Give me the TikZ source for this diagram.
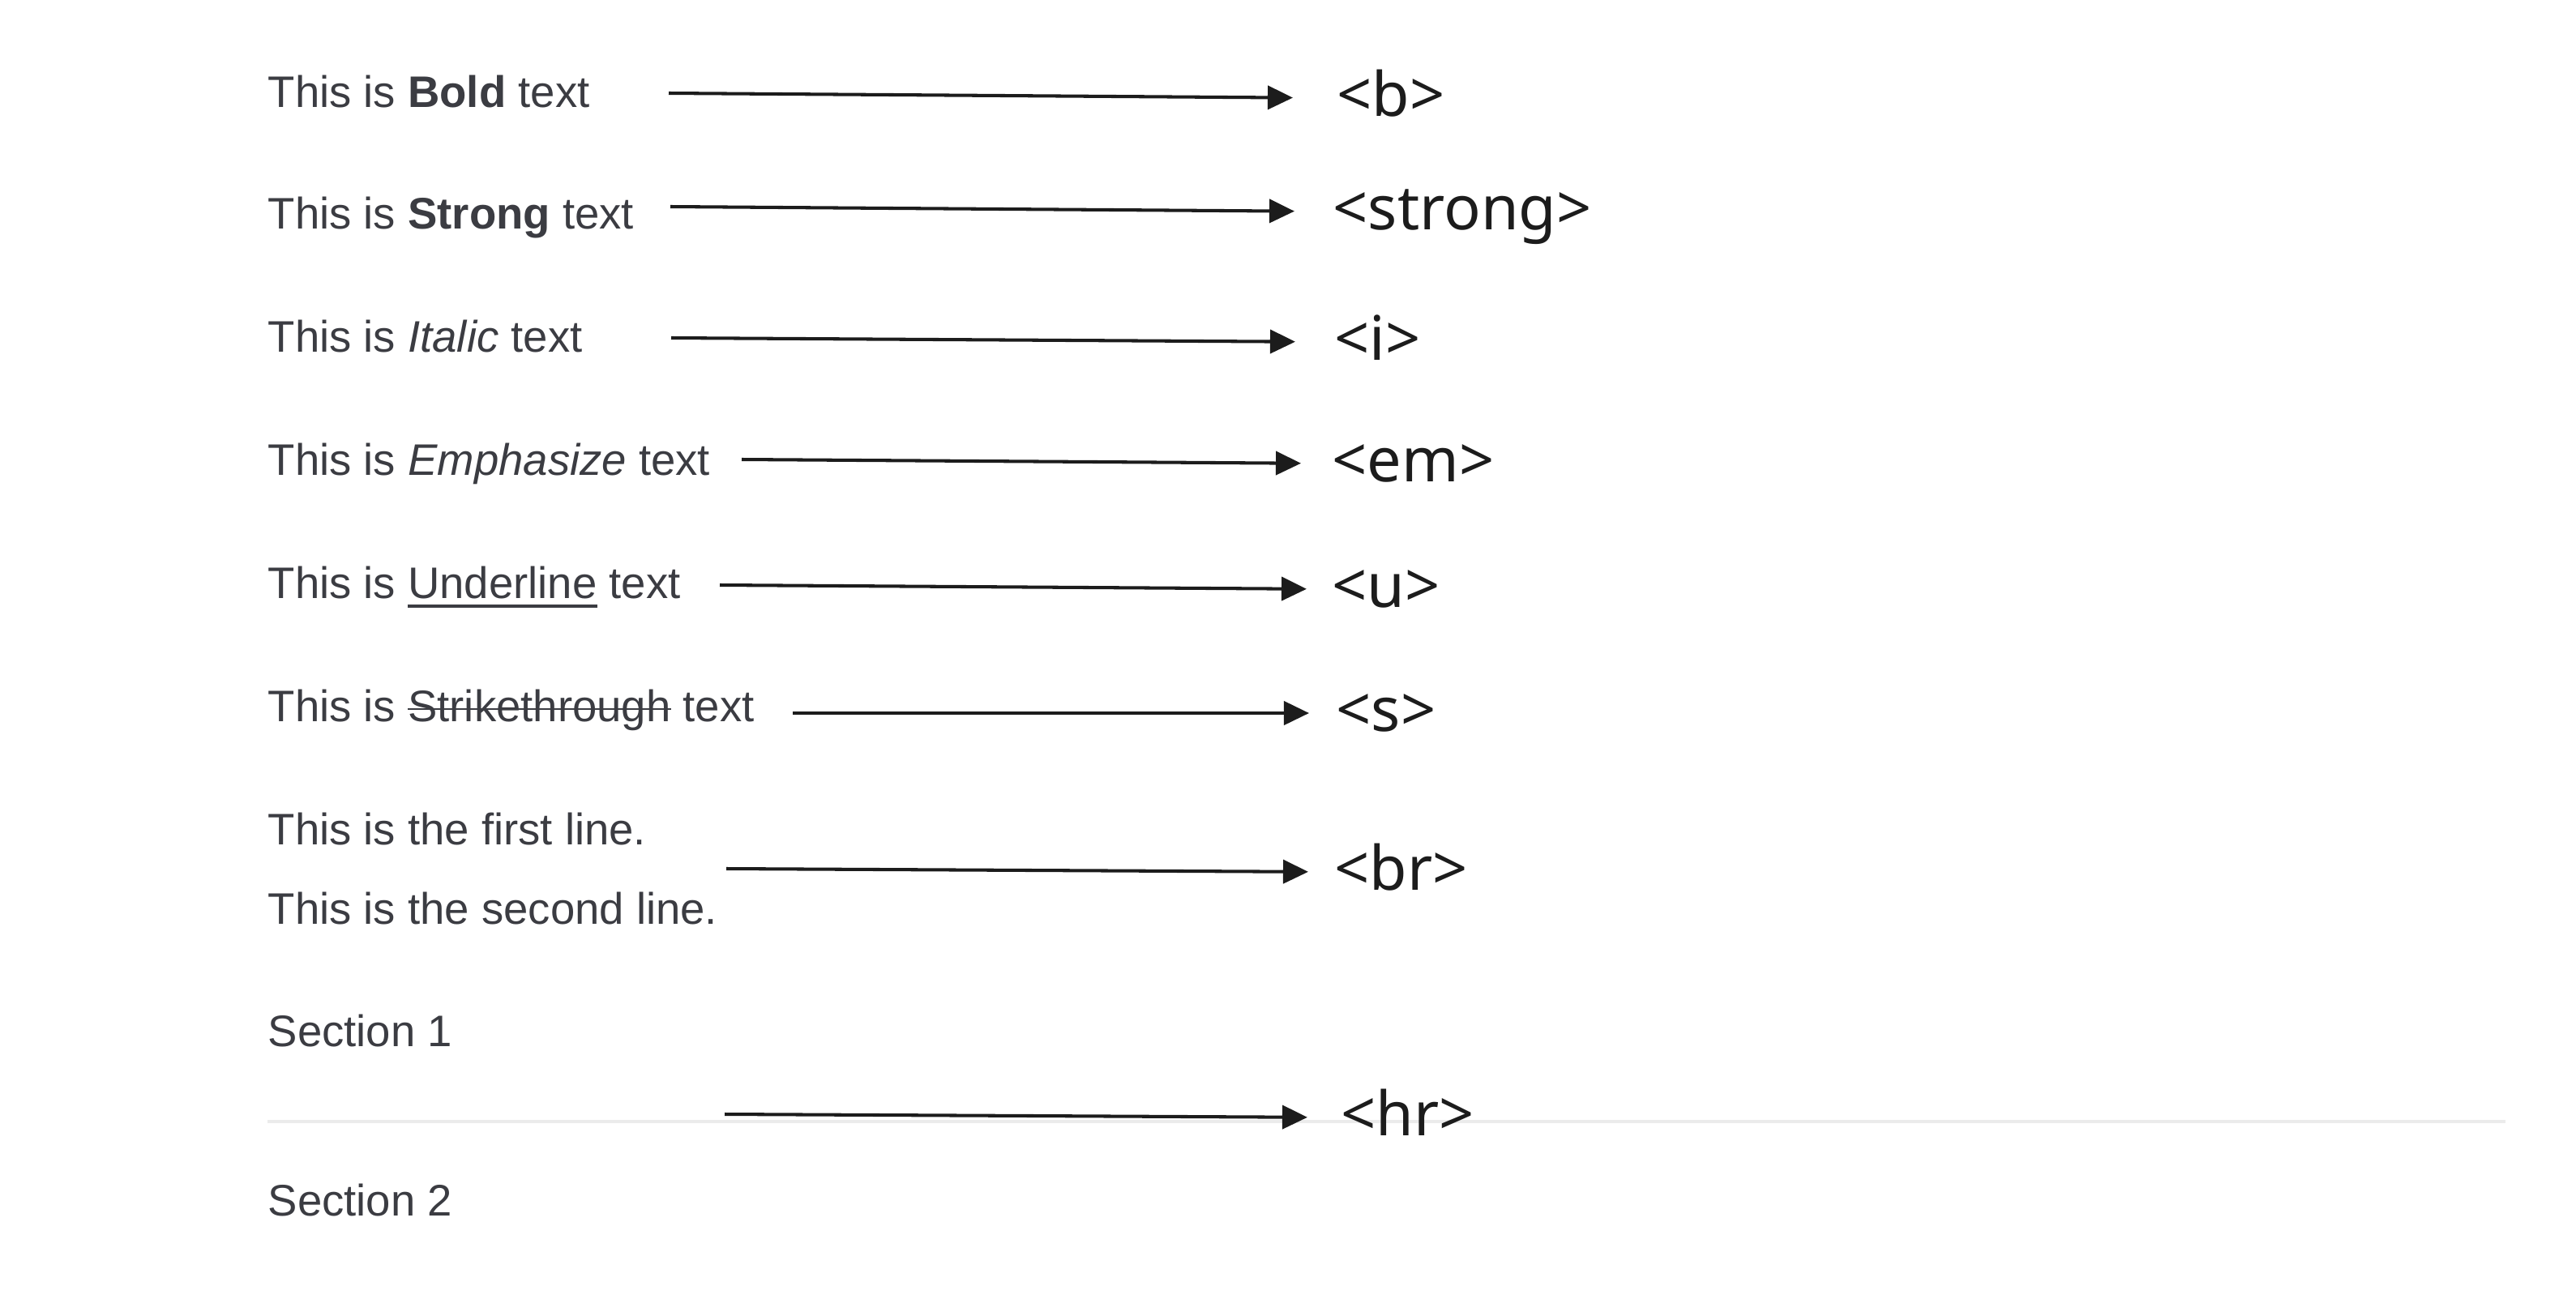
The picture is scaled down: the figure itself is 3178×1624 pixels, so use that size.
\documentclass[tikz,border=0pt]{standalone}
\usepackage{fontspec}
\setmainfont{Liberation Sans}
\newfontfamily\tagfont{Noto Sans}
\usetikzlibrary{arrows.meta}

\definecolor{inkgray}{HTML}{3B3C42}
\definecolor{inkblack}{HTML}{1C1C1C}
\definecolor{rulegray}{HTML}{EBEBEB}

% underline and strike-through for a single word
\newcommand\ulword[1]{\sbox0{#1}\rlap{\rule[-3.4pt]{\wd0}{1.2pt}}\usebox0}
\newcommand\strikeword[1]{\sbox0{#1}\rlap{\rule[0.25em]{\wd0}{0.8pt}}\usebox0}

\begin{document}
\begin{tikzpicture}[
  x=0.01cm, y=-0.01cm,
  txt/.style={anchor=base west, inner sep=0pt, text=inkgray,
              font=\fontsize{15.5}{18}\selectfont},
  tag/.style={anchor=west, inner sep=0pt, text height=16pt, text depth=3pt,
              text=inkblack, font=\tagfont\fontsize{21.5}{24}\selectfont},
  arrow/.style={-{Triangle[length=0.31cm, width=0.29cm]}, line width=1.15pt, draw=inkblack}
]
\useasboundingbox (0,0) rectangle (3178,1624);

% Horizontal rule
\draw[rulegray, line width=1.2pt] (330,1384) coordinate (hrl) -- (3091,1384) coordinate (hrr);

% Rendered text
\node[txt] (bold) at (330,132) {This is \textbf{Bold} text};
\node[txt] (strong) at (330,282) {This is \textbf{Strong} text};
\node[txt] (italic) at (330,434) {This is \textit{Italic} text};
\node[txt] (emph) at (330,586) {This is \textit{Emphasize} text};
\node[txt] (under) at (330,738) {This is \ulword{Underline} text};
\node[txt] (strike) at (330,890) {This is \strikeword{Strikethrough} text};
\node[txt, align=left, font=\fontsize{15.5}{27.6}\selectfont] (lines) at (330,1140)
  {This is the first line.\\This is the second line.};
\node[txt] (sec1) at (330,1291) {Section 1};
\node[txt] (sec2) at (330,1500) {Section 2};

% Tags
\node[tag] (b) at (1649,121) {<b>};
\node[tag] (strongtag) at (1644,261) {<strong>};
\node[tag] (i) at (1646,422) {<i>};
\node[tag] (em) at (1643,572) {<em>};
\node[tag] (u) at (1643,727) {<u>};
\node[tag] (s) at (1648,880) {<s>};
\node[tag] (br) at (1646,1076) {<br>};
\node[tag] (hr) at (1654,1379) {<hr>};

% Arrow tails
\coordinate (t1) at (825,115);
\coordinate (t2) at (827,255);
\coordinate (t3) at (828,417);
\coordinate (t4) at (915,567);
\coordinate (t5) at (888,722);
\coordinate (t6) at (978,880);
\coordinate (t7) at (896,1072);
\coordinate (t8) at (894,1375);

% Arrows
\draw[arrow, shorten >=0.54cm] (t1) -- (b.west);
\draw[arrow, shorten >=0.47cm] (t2) -- (strongtag.west);
\draw[arrow, shorten >=0.48cm] (t3) -- (i.west);
\draw[arrow, shorten >=0.38cm] (t4) -- (em.west);
\draw[arrow, shorten >=0.31cm] (t5) -- (u.west);
\draw[arrow, shorten >=0.33cm] (t6) -- (s.west);
\draw[arrow, shorten >=0.32cm] (t7) -- (br.west);
\draw[arrow, shorten >=0.41cm] (t8) -- (hr.west);

\end{tikzpicture}
\end{document}
